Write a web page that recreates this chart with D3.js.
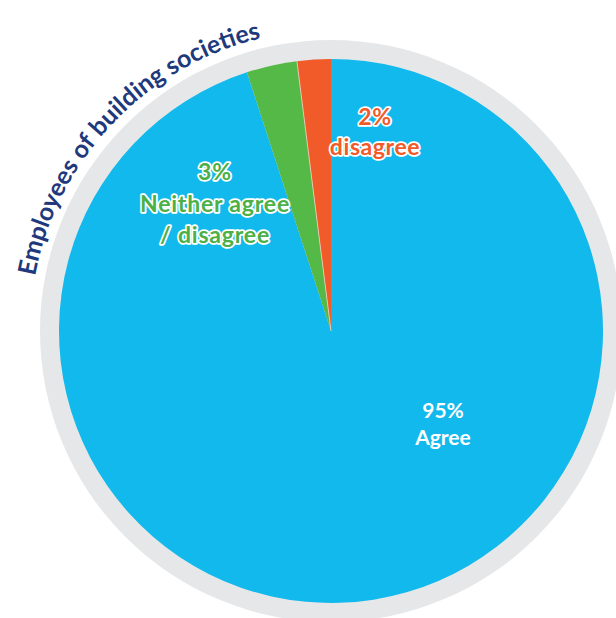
<!DOCTYPE html>
<html><head><meta charset="utf-8">
<script src="https://cdn.jsdelivr.net/npm/d3@7"></script>
<style>html,body{margin:0;padding:0;background:#fff;}svg{display:block;}</style>
</head><body>
<script>
const categories = ["Agree", "Neither agree / disagree", "disagree"];
const values = [95, 3, 2];
const labelLines = [["95%", "Agree"], ["3%", "Neither agree", "/ disagree"], ["2%", "disagree"]];
const sliceColors = ["#12b9ec", "#55b947", "#f15a29"];
const labelColors = ["#ffffff", "#4cb046", "#f15a29"];
const title = "Employees of building societies";

const W = 616, H = 618, cx = 331, cy = 331, R = 272, ringR = 291;
const svg = d3.select("body").append("svg").attr("width", W).attr("height", H);
const g = svg.append("g").attr("transform", `translate(${cx},${cy})`);

g.append("circle").attr("r", ringR).attr("fill", "#e6e7e8");

const pie = d3.pie().sort(null).value(d => d);
const arcs = pie(values);
const arc = d3.arc().innerRadius(0).outerRadius(R);
g.selectAll("path.slice").data(arcs).enter().append("path")
  .attr("class", "slice").attr("d", arc)
  .attr("fill", (d, i) => sliceColors[i]);
g.append("line").attr("x1", 0).attr("y1", 0)
  .attr("x2", R * Math.sin(arcs[2].startAngle)).attr("y2", -R * Math.cos(arcs[2].startAngle))
  .attr("stroke", "#f3d2c0").attr("stroke-width", 0.8);

// labels (one text element per line)
const labelPos = [[443, 411, 21, 27, 0], [215, 172, 23, 31.5, 0.8], [375, 117, 23, 30, 0.6]];
labelLines.forEach((lines, i) => {
  const [x, y, fs, lh, ls] = labelPos[i];
  lines.forEach((l, j) => {
    const t = svg.append("text")
      .attr("x", x).attr("y", y + j * lh).attr("dy", "0.35em")
      .attr("text-anchor", "middle")
      .attr("font-family", "Lato, 'Open Sans', sans-serif")
      .attr("font-weight", 700)
      .attr("font-size", fs)
      .attr("letter-spacing", ls)
      .attr("fill", labelColors[i])
      .text(l);
    if (i > 0) t.attr("stroke", "#fff").attr("stroke-width", 3.5).attr("stroke-linejoin", "round").attr("paint-order", "stroke");
  });
});

// curved title, one textPath per word
const tr = 301;
const a0 = -82 * Math.PI / 180, a1 = -8 * Math.PI / 180;
const p = d3.path();
p.arc(0, 0, tr, a0 - Math.PI / 2, a1 - Math.PI / 2, false);
g.append("path").attr("id", "titlePath").attr("d", p.toString()).attr("fill", "none");
const midOff = tr * ((-46.5 * Math.PI / 180) - a0);
const titleFont = {family: "Lato, 'Open Sans', sans-serif", weight: 700, size: 25};
function measure(s) {
  const t = svg.append("text").attr("font-family", titleFont.family)
    .attr("font-weight", titleFont.weight).attr("font-size", titleFont.size)
    .style("white-space", "pre").text(s);
  const w = t.node().getComputedTextLength();
  t.remove();
  return w;
}
const words = title.split(" ");
const wordW = words.map(measure);
const spaceW = measure("a a") - measure("aa");
const total = d3.sum(wordW) + spaceW * (words.length - 1);
let off = midOff - total / 2;
words.forEach((w, i) => {
  g.append("text")
    .attr("font-family", titleFont.family)
    .attr("font-weight", titleFont.weight)
    .attr("font-size", titleFont.size)
    .attr("fill", "#1f3a7c")
    .append("textPath").attr("href", "#titlePath")
    .attr("startOffset", off)
    .text(w);
  off += wordW[i] + spaceW;
});
</script>
</body></html>
